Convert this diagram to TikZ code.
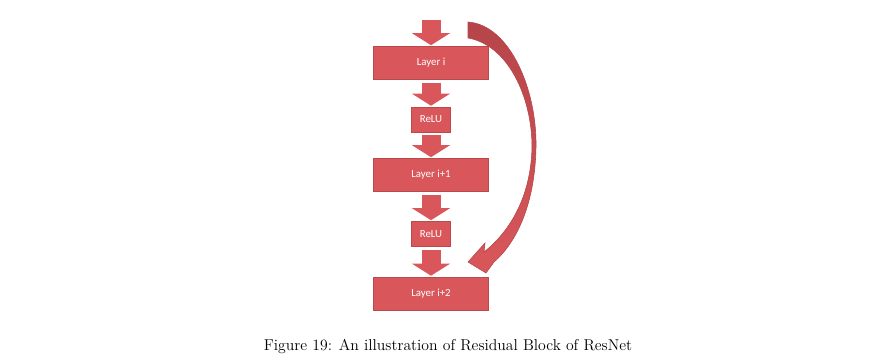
\documentclass[tikz,border=0pt]{standalone}
\usepackage{fontspec}
\newfontfamily\carlito{Carlito}
\usepackage{tikz}
\usetikzlibrary{arrows.meta}

\definecolor{resred}{RGB}{217,87,91}
\definecolor{resdark}{RGB}{181,69,73}

\begin{document}
\begin{tikzpicture}[x=0.7pt, y=-0.7pt,
  box/.style={draw=resred!85!black, fill=resred, text=white, inner sep=0pt,
    font=\carlito\fontsize{7.6}{9}\selectfont,
    minimum width=#1, minimum height=23.1pt},
  box/.default=80.5pt,
  relu/.style={box=27.3pt, minimum height=17.5pt},
  flow/.style={draw=resred, line width=13.3pt,
    -{Triangle[length=8.4pt, width=26.6pt, line width=0pt]},
    shorten <=2.1pt, shorten >=0.7pt}]
\useasboundingbox (0,0) rectangle (875,358);

\node[box]  (layer1) at (431,63)    {Layer i};
\node[relu] (relu1)  at (431,119.5) {ReLU};
\node[box]  (layer2) at (431,175)   {Layer i+1};
\node[relu] (relu2)  at (431,234)   {ReLU};
\node[box]  (layer3) at (431,293.5) {Layer i+2};
\coordinate (in) at (431,20);

% main path through the block
\draw[flow, shorten <=0pt] (in) -- (layer1.north);
\foreach \a/\b in {layer1/relu1, relu1/layer2, layer2/relu2, relu2/layer3}
  {\draw[flow] (\a.south) -- (\b.north);}

% identity shortcut
\coordinate (skiptop) at (468,22);
\coordinate (skiptip) at (468,262);
\path[draw=resdark, line width=0.4pt, top color=resdark, bottom color=resred]
  (skiptop) .. controls (510,25) and (537,90) .. (536,147)
  .. controls (535,205) and (516,243) .. (494,262)
  -- (486,273) -- (skiptip) -- (485,243) -- (484,252)
  .. controls (507,234) and (531,200) .. (532,147)
  .. controls (532,97) and (508,45) .. (468,38) -- cycle;

\node[font=\fontsize{11}{13.6}\selectfont] (cap) at (448,347)
  {Figure 19: An illustration of Residual Block of ResNet};
\end{tikzpicture}
\end{document}
